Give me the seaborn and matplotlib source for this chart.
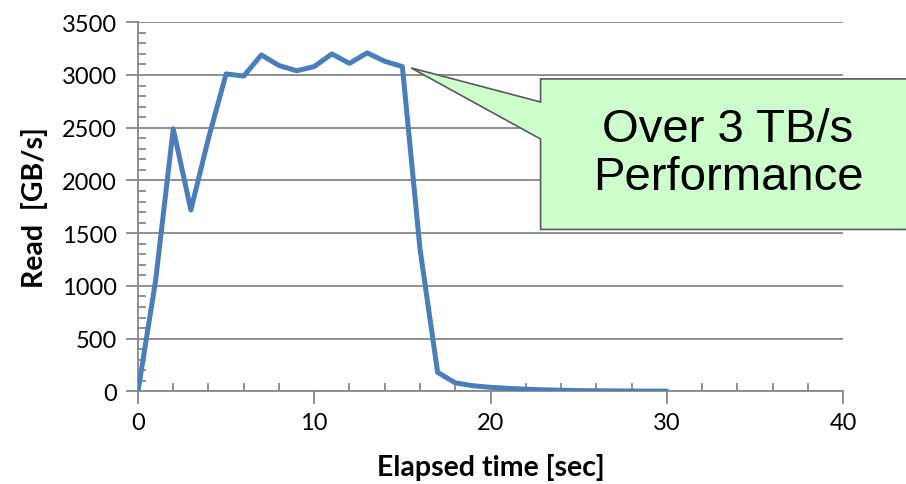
import numpy as np
import pandas as pd
import matplotlib
matplotlib.use("Agg")
import matplotlib.pyplot as plt
from matplotlib.patches import Polygon
from matplotlib.ticker import MultipleLocator
import seaborn as sns

# Данные
elapsed_sec = list(range(0, 31))
read_gbs = [0, 1050, 2490, 1720, 2400, 3010, 2990, 3190, 3090, 3040,
            3080, 3200, 3110, 3210, 3130, 3080, 1350, 180, 80, 53,
            38, 28, 20, 14, 10, 7, 5, 4, 3, 2, 2]
x_ticks = [0, 10, 20, 30, 40]
y_ticks = [0, 500, 1000, 1500, 2000, 2500, 3000, 3500]
callout_text = "Over 3 TB/s\nPerformance"

df = pd.DataFrame({"time": elapsed_sec, "read": read_gbs})

sns.set_style("white")
plt.rcParams["font.family"] = ["Lato", "DejaVu Sans"]

fig = plt.figure(figsize=(9.06, 4.85), dpi=100)
ax = fig.add_axes([0.1523, 0.1911, 0.7782, 0.7609])

grid_color = "#878787"
sns.lineplot(data=df, x="time", y="read", ax=ax, color="#4A7EBB", linewidth=3.6, zorder=3)

ax.set_xlim(0, 40)
ax.set_ylim(0, 3500)
ax.set_xticks(x_ticks)
ax.set_yticks(y_ticks)
ax.xaxis.set_minor_locator(MultipleLocator(2))
ax.yaxis.set_minor_locator(MultipleLocator(100))
ax.grid(axis="y", which="major", color=grid_color, linewidth=1.3)
ax.set_axisbelow(True)

for side in ["top", "right"]:
    ax.spines[side].set_visible(False)
for side in ["left", "bottom"]:
    ax.spines[side].set_color(grid_color)
    ax.spines[side].set_linewidth(1.3)

ax.tick_params(which="major", direction="out", length=9, width=1.3, color=grid_color,
               labelsize=17, labelcolor="black", pad=6)
ax.tick_params(which="minor", direction="in", length=6, width=1.3, color=grid_color)
ax.tick_params(axis="x", which="both", bottom=True)
ax.tick_params(axis="y", which="both", left=True)

ax.set_xlabel("Elapsed time [sec]", fontsize=20.5, fontweight="bold", color="black", labelpad=14)
ax.set_ylabel("Read  [GB/s]", fontsize=20.5, fontweight="bold", color="black", labelpad=10)

# Выноска с подписью
box_l, box_r, box_b, box_t = 22.84, 43.8, 1535, 2963
tip = (15.5, 3067)
verts = [(box_l, box_t), (box_r, box_t), (box_r, box_b), (box_l, box_b),
         (box_l, 2393), tip, (box_l, 2744)]
ax.add_patch(Polygon(verts, closed=True, facecolor="#CCFFCC", edgecolor="#595959",
                     linewidth=1.2, clip_on=False, zorder=4))
ax.text((box_l + box_r) / 2 + 0.15, (box_b + box_t) / 2 + 10, callout_text, ha="center", va="center",
        fontsize=34, color="black", family=["Liberation Sans", "DejaVu Sans"],
        linespacing=1.1, zorder=5)

fig.savefig("out.png", dpi=100)
